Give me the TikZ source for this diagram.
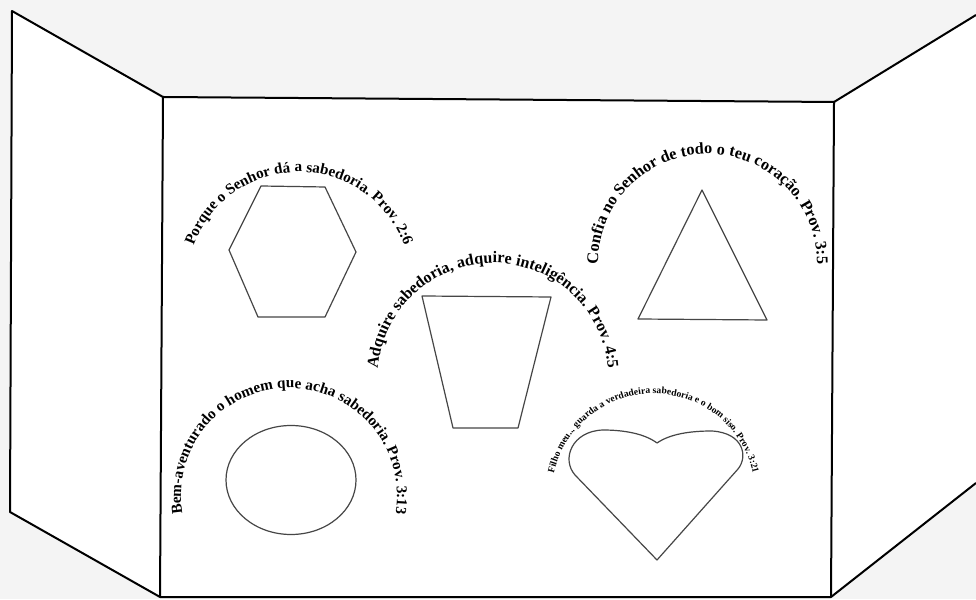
\documentclass[tikz,border=0pt]{standalone}
\usepackage{fontspec}
\setmainfont{Liberation Serif}
\usetikzlibrary{decorations.text,calc}
\definecolor{bgcol}{RGB}{244,244,244}
\definecolor{figcol}{RGB}{70,70,70}
\tikzset{
  panel/.style={line width=2pt, black, line join=round},
  figline/.style={line width=1.2pt, figcol, line join=round},
  curvetext/.style={decorate, decoration={text along path, text align=center, text={#1}}}
}
\begin{document}
\begin{tikzpicture}[x=1pt,y=1pt]
\useasboundingbox (0,0) rectangle (976,599);
\fill[bgcol] (0,0) rectangle (976,599);
% board corners
\coordinate (LT) at (12,588);
\coordinate (LB) at (10,87);
\coordinate (CTL) at (163,502);
\coordinate (CBL) at (160,2);
\coordinate (CTR) at (834,497);
\coordinate (CBR) at (831,2);
\coordinate (RT) at (976,584);
\coordinate (RB) at (976,116);
\fill[white] (LT) -- (CTL) -- (CBL) -- (LB) -- cycle;
\fill[white] (CTL) -- (CTR) -- (CBR) -- (CBL) -- cycle;
\fill[white] (CTR) -- (RT) -- (RB) -- (CBR) -- cycle;
\draw[panel] (LT) -- (CTL) -- (CBL) -- (LB) -- cycle;
\draw[panel] (CTL) -- (CTR) -- (CBR) -- (CBL);
\draw[panel] (CTR) -- (RT);
\draw[panel] (CBR) -- (RB);
% figures
\coordinate (h1) at (261,413); \coordinate (h2) at (325,412);
\coordinate (h3) at (356,347); \coordinate (h4) at (325,282);
\coordinate (h5) at (258,282); \coordinate (h6) at (229,349);
\draw[figline] (h1) -- (h2) -- (h3) -- (h4) -- (h5) -- (h6) -- cycle;
\coordinate (t1) at (422,303); \coordinate (t2) at (551,302);
\coordinate (t3) at (518,171); \coordinate (t4) at (453,171);
\draw[figline] (t1) -- (t2) -- (t3) -- (t4) -- cycle;
\coordinate (g1) at (702,409); \coordinate (g2) at (638,280); \coordinate (g3) at (767,279);
\draw[figline] (g1) -- (g3) -- (g2) -- cycle;
\coordinate (el) at (291,119);
\draw[figline] (el) ellipse[x radius=65pt, y radius=54.5pt];
\coordinate (tip) at (657,39);
\coordinate (dip) at (657,156);
\draw[figline] (tip) -- (575,124) .. controls (561,140) and (572,168) .. (603,169)
  .. controls (625,169) and (645,165) .. (dip)
  .. controls (670,165) and (690,168) .. (712,168)
  .. controls (744,166) and (748,142) .. (738,130) -- cycle;
% curved texts
\coordinate (c1) at (299,315);
\coordinate (c2) at (493,220.5);
\coordinate (c3) at (707.5,335.5);
\coordinate (c4) at (289,103);
\coordinate (c5) at (653.5,103.4);
\path[curvetext={|\bfseries\fontsize{15.2}{18}\selectfont|Porque o Senhor dá a sabedoria. Prov. 2:6}]
  ($(c1)+(200:112pt)$) arc[start angle=200, end angle=-20, radius=112pt];
\path[curvetext={|\bfseries\fontsize{16.1}{19}\selectfont|Adquire sabedoria, adquire inteligência. Prov. 4:5}]
  ($(c2)+(200:115.5pt)$) arc[start angle=200, end angle=-20, radius=115.5pt];
\path[curvetext={|\bfseries\fontsize{16.3}{19}\selectfont|Confia no Senhor de todo o teu coração. Prov. 3:5}]
  ($(c3)+(200:109.5pt)$) arc[start angle=200, end angle=-20, radius=109.5pt];
\path[curvetext={|\bfseries\fontsize{15.2}{18}\selectfont|Bem-aventurado o homem que acha sabedoria. Prov. 3:13}]
  ($(c4)+(200:108pt)$) arc[start angle=200, end angle=-20, radius=108pt];
\path[curvetext={|\bfseries\fontsize{9.6}{11}\selectfont|Filho meu... guarda a verdadeira sabedoria e o bom siso. Prov. 3:21}]
  ($(c5)+(200:102pt)$) arc[start angle=200, end angle=-20, radius=102pt];
\end{tikzpicture}
\end{document}
